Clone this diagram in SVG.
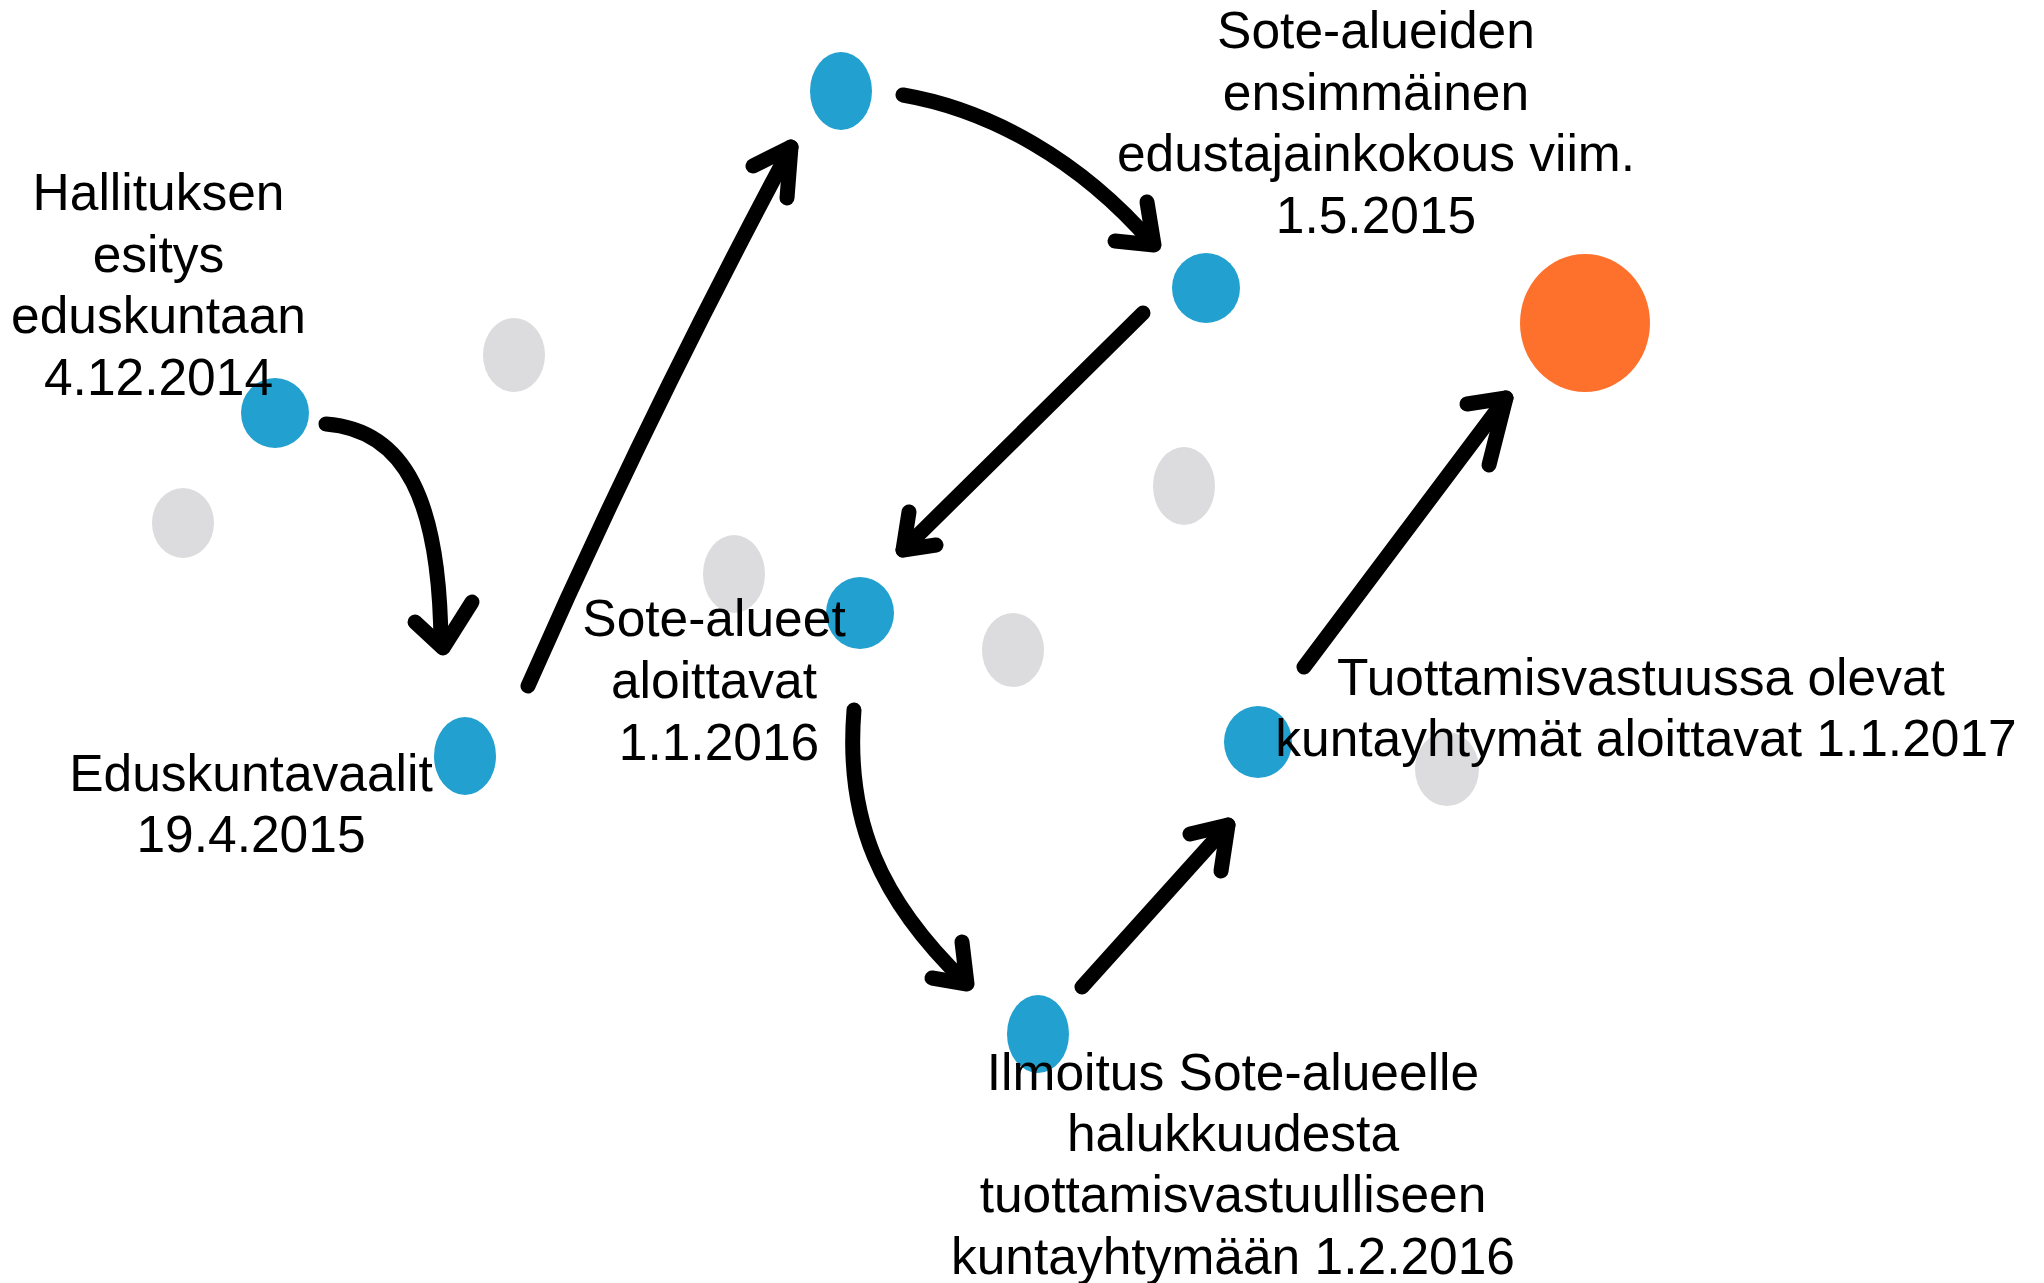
<svg xmlns="http://www.w3.org/2000/svg" width="2044" height="1283" viewBox="0 0 2044 1283">
<style>
.bg{fill:#ffffff}
.blue{fill:#22a0cf}
.gray{fill:#dcdcde}
.orange{fill:#fe712c}
.lbl{font-family:"Liberation Sans",Arial,sans-serif;font-size:51.5px;fill:#000;text-anchor:middle}
.arr{fill:none;stroke:#000;stroke-width:15;stroke-linecap:round;stroke-linejoin:round}
</style>
<rect class="bg" x="0" y="0" width="2044" height="1283"/>
<g id="background-dots">
<ellipse class="gray" cx="514" cy="355" rx="31" ry="37"/>
<ellipse class="gray" cx="183" cy="523" rx="31" ry="35"/>
<ellipse class="gray" cx="734" cy="574" rx="31" ry="39"/>
<ellipse class="gray" cx="1184" cy="486" rx="31" ry="39"/>
<ellipse class="gray" cx="1013" cy="650" rx="31" ry="37"/>
<ellipse class="gray" cx="1447" cy="769" rx="32" ry="37"/>
</g>
<g id="connectors">
<path class="arr" d="M326,424 C405,430 440,500 441,645"/>
<path class="arr" d="M415,622 L443,648 L472,602"/>
<path class="arr" d="M528,686 Q645,420 791,147"/>
<path class="arr" d="M753,166 L791,147 L787,198"/>
<path class="arr" d="M903,95 C990,110 1080,160 1152,243"/>
<path class="arr" d="M1115,241 L1154,245 L1147,202"/>
<path class="arr" d="M1143,313 L903,550"/>
<path class="arr" d="M909,512 L903,550 L936,545"/>
<path class="arr" d="M854,710 C845,820 880,900 965,982"/>
<path class="arr" d="M932,978 L967,984 L962,942"/>
<path class="arr" d="M1082,987 L1228,825"/>
<path class="arr" d="M1190,834 L1228,825 L1221,871"/>
<path class="arr" d="M1304,667 L1506,398"/>
<path class="arr" d="M1467,404 L1506,398 L1489,465"/>
</g>
<g id="node-hallituksen">
<ellipse class="blue" cx="275" cy="413" rx="34" ry="35"/>
<text class="lbl"><tspan x="158.5" y="210">Hallituksen</tspan><tspan x="158.5" y="272">esitys</tspan><tspan x="158.5" y="333">eduskuntaan</tspan><tspan x="158.5" y="395">4.12.2014</tspan></text>
</g>
<g id="node-eduskuntavaalit">
<ellipse class="blue" cx="465" cy="756" rx="31" ry="39"/>
<text class="lbl"><tspan x="251" y="791">Eduskuntavaalit</tspan><tspan x="251" y="852">19.4.2015</tspan></text>
</g>
<g id="node-top">
<ellipse class="blue" cx="841" cy="91" rx="31" ry="39"/>
</g>
<g id="node-edustajainkokous">
<ellipse class="blue" cx="1206" cy="288" rx="34" ry="35"/>
<text class="lbl"><tspan x="1376" y="48">Sote-alueiden</tspan><tspan x="1376" y="110">ensimmäinen</tspan><tspan x="1376" y="171">edustajainkokous viim.</tspan><tspan x="1376" y="233">1.5.2015</tspan></text>
</g>
<g id="node-sote-alueet">
<ellipse class="blue" cx="860" cy="613" rx="34" ry="36"/>
<text class="lbl"><tspan x="714" y="636">Sote-alueet</tspan><tspan x="714" y="698">aloittavat</tspan><tspan x="719" y="760">1.1.2016</tspan></text>
</g>
<g id="node-ilmoitus">
<ellipse class="blue" cx="1038" cy="1034" rx="31" ry="39"/>
<text class="lbl"><tspan x="1233" y="1090">Ilmoitus Sote-alueelle</tspan><tspan x="1233" y="1151">halukkuudesta</tspan><tspan x="1233" y="1212">tuottamisvastuulliseen</tspan><tspan x="1233" y="1274">kuntayhtymään 1.2.2016</tspan></text>
</g>
<g id="node-tuottamis">
<ellipse class="blue" cx="1258" cy="742" rx="34" ry="36"/>
<text class="lbl"><tspan x="1641" y="695">Tuottamisvastuussa olevat</tspan><tspan x="1646" y="756">kuntayhtymät aloittavat 1.1.2017</tspan></text>
</g>
<g id="node-goal">
<ellipse class="orange" cx="1585" cy="323" rx="65" ry="69"/>
</g>
</svg>
